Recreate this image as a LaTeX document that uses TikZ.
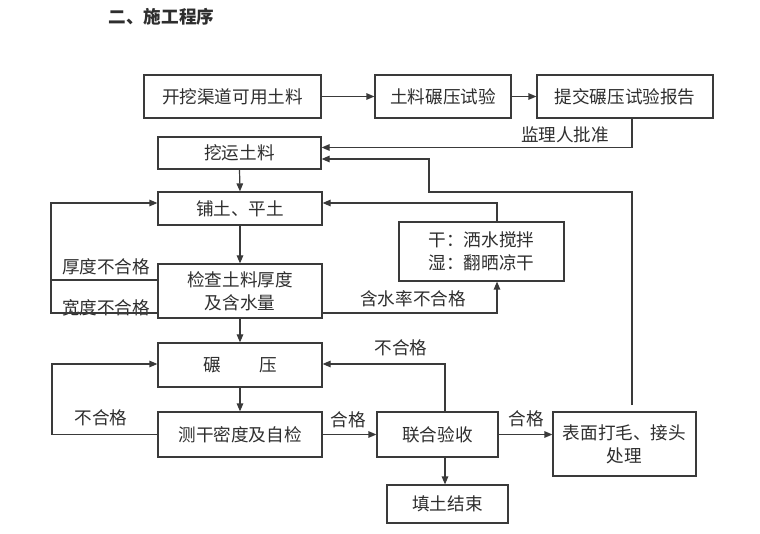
\documentclass[tikz,border=0pt]{standalone}
\usepackage{fontspec}
\setmainfont{Noto Sans CJK SC}
\usetikzlibrary{arrows.meta,calc}
\definecolor{linec}{HTML}{3A3A3A}
\definecolor{txtc}{HTML}{2E2E2E}
\newcommand\myfs{\fontsize{17.6}{23}\selectfont}
\tikzset{
  box/.style={draw=linec,line width=1.2pt,inner sep=0pt,align=center,font=\myfs,text=txtc},
  lbl/.style={inner sep=0pt,font=\myfs,text=txtc},
  ln/.style={draw=linec,line width=1.2pt},
  arr/.style={ln,-{Triangle[length=8pt,width=6.5pt]}}
}
\begin{document}
\begin{tikzpicture}[x=1pt,y=-1pt]
\path[use as bounding box,fill=white] (0,0) rectangle (760,534);

\node[lbl,font=\myfs\bfseries] (title) at (161.5,17) {二、施工程序};

\node[box,minimum width=177pt,minimum height=43pt] (b1) at (232.5,96.5) {开挖渠道可用土料};
\node[box,minimum width=136pt,minimum height=43pt] (b2) at (443,96.5) {土料碾压试验};
\node[box,minimum width=176pt,minimum height=43pt] (b3) at (625,96.5) {提交碾压试验报告};
\node[box,minimum width=163pt,minimum height=32pt] (b4) at (239.5,153) {挖运土料};
\node[box,minimum width=164pt,minimum height=33pt] (b5) at (240,208.5) {铺土、平土};
\node[box,minimum width=164pt,minimum height=54pt] (b6) at (240,291) {检查土料厚度\\及含水量};
\node[box,minimum width=165pt,minimum height=59pt] (b7) at (481.5,251.5) {干：洒水搅拌\\湿：翻晒凉干};
\node[box,minimum width=164pt,minimum height=44pt] (b8) at (240,365) {碾\hspace{38pt}压};
\node[box,minimum width=164pt,minimum height=45pt] (b9) at (240,434.5) {测干密度及自检};
\node[box,minimum width=121pt,minimum height=45pt] (b10) at (437.5,434.5) {联合验收};
\node[box,minimum width=143pt,minimum height=64pt] (b11) at (624.5,444) {表面打毛、接头\\处理};
\node[box,minimum width=121pt,minimum height=38pt] (b12) at (447.5,504) {填土结束};

% labels
\node[lbl] (l1) at (565,135) {监理人批准};
\node[lbl] (l2) at (106,267) {厚度不合格};
\node[lbl] (l3) at (106,308) {宽度不合格};
\node[lbl] (l4) at (413,299) {含水率不合格};
\node[lbl] (l5) at (101,418) {不合格};
\node[lbl] (l6) at (401,348) {不合格};
\node[lbl] (l7) at (348,420) {合格};
\node[lbl] (l8) at (526,419) {合格};

% coordinates
\coordinate (j1) at (632,147.5);
\coordinate (s1) at (632,405);
\coordinate (k1) at (632,192);
\coordinate (k2) at (429,192);
\coordinate (k3) at (429,159);
\coordinate (L1) at (51,203);
\coordinate (L2) at (51,313);
\coordinate (L3) at (51,280);
\coordinate (m1) at (497,313);
\coordinate (m2) at (497,203);
\coordinate (n1) at (52,434.5);
\coordinate (n2) at (52,364);
\coordinate (p1) at (445,364);

% connectors
\draw[arr] (b1) -- (b2);
\draw[arr] (b2) -- (b3);
\draw[arr] (b3.south -| j1) -- (j1) -- (b4.east |- j1);
\draw[arr] (s1) -- (k1) -- (k2) -- (k3) -- (b4.east |- k3);
\draw[arr] (b4.south) -- (b5.north);
\draw[arr] (b5) -- (b6);
\draw[arr] (b6) -- (b8);
\draw[arr] (b8) -- (b9);
\draw[ln] (b6.west |- L3) -- (L3);
\draw[arr] (b6.west |- L2) -- (L2) -- (L1) -- (b5.west |- L1);
\draw[arr] (b6.east |- m1) -- (m1) -- (b7.south -| m1);
\draw[arr] (b7.north -| m2) -- (m2) -- (b5.east |- m2);
\draw[arr] (b9.west) -- (n1) -- (n2) -- (b8.west |- n2);
\draw[arr] (b9) -- (b10);
\draw[arr] (b10.north -| p1) -- (p1) -- (b8.east |- p1);
\draw[arr] (b10.east) -- (b11.west |- b10.east);
\draw[arr] (b10.south -| p1) -- (b12.north -| p1);
\end{tikzpicture}
\end{document}
